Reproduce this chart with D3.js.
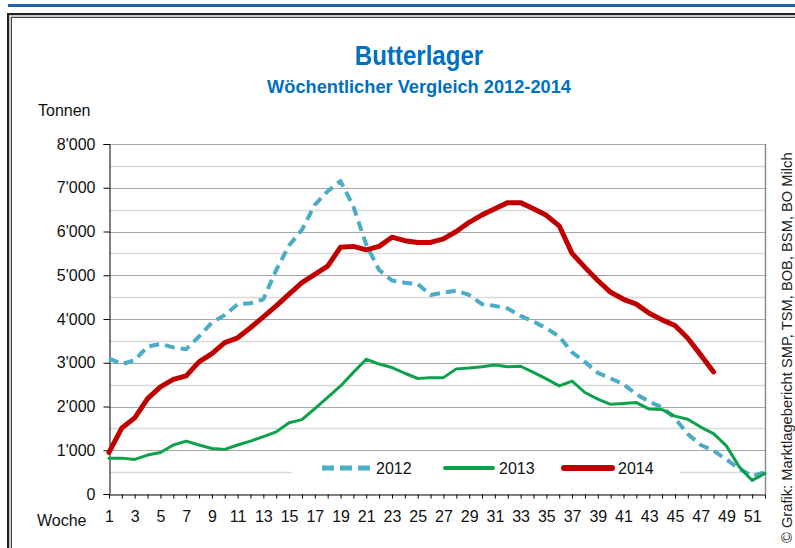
<!DOCTYPE html>
<html>
<head>
<meta charset="utf-8">
<script src="https://cdn.jsdelivr.net/npm/d3@7"></script>
<style>
  body { margin: 0; background: #fff; }
  svg { display: block; }
  text { font-family: "Liberation Sans Narrow", "Arial Narrow", "Liberation Sans", Arial, sans-serif; }
</style>
</head>
<body>
<div id="viz"></div>
<script>
// weeks + values (tonnes)
var weeks = d3.range(1, 53);
var weekLabels = d3.range(1, 52, 2);
var yTicks = [0, 1000, 2000, 3000, 4000, 5000, 6000, 7000, 8000];
var yMinor = [500, 1500, 2500, 3500, 4500, 5500, 6500, 7500];

var v2012 = [3100, 2970, 3060, 3370, 3430, 3350, 3310, 3600, 3920, 4090,
             4340, 4360, 4450, 5120, 5680, 6040, 6610, 6920, 7150, 6570,
             5700, 5120, 4880, 4830, 4800, 4550, 4600, 4650, 4550, 4340,
             4300, 4240, 4070, 3940, 3790, 3600, 3240, 3020, 2770, 2640,
             2510, 2280, 2110, 1980, 1730, 1370, 1120, 990, 790, 580,
             410, 500];
var v2013 = [820, 820, 790, 890, 950, 1120, 1210, 1120, 1040, 1020,
             1120, 1210, 1310, 1420, 1630, 1700, 1950, 2210, 2470, 2780,
             3080, 2970, 2890, 2760, 2640, 2660, 2660, 2860, 2880, 2910,
             2950, 2910, 2920, 2780, 2630, 2470, 2580, 2320, 2170, 2050,
             2070, 2090, 1940, 1930, 1780, 1710, 1530, 1380, 1100, 620,
             310, 470];
var v2014 = [950, 1510, 1740, 2180, 2450, 2620, 2700, 3020, 3210, 3460,
             3570, 3800, 4050, 4300, 4570, 4830, 5020, 5210, 5640, 5660,
             5580, 5660, 5870, 5790, 5750, 5750, 5830, 6000, 6210, 6380,
             6520, 6660, 6660, 6520, 6370, 6130, 5500, 5180, 4880, 4610,
             4450, 4340, 4130, 3980, 3850, 3560, 3180, 2790];

var series = [
    {name: "2012", values: v2012, color: "#4bacc6", width: 4, dash: "10,6"},
    {name: "2013", values: v2013, color: "#0ea14b", width: 3, dash: null},
    {name: "2014", values: v2014, color: "#c00000", width: 5, dash: null}
];

var W = 795, H = 548;
var svg = d3.select('#viz').append('svg')
        .attr("width", W)
        .attr("height", H);

// page decoration: blue rule + double frame
svg.append("rect").attr("x", 8).attr("y", 4).attr("width", W - 8).attr("height", 3).attr("fill", "#1f5fa8");
svg.append("rect").attr("x", 8).attr("y", 14).attr("width", W + 20).attr("height", H + 20)
    .attr("fill", "none").attr("stroke", "#222").attr("stroke-width", 2);
svg.append("rect").attr("x", 10).attr("y", 16).attr("width", W + 20).attr("height", H + 20)
    .attr("fill", "none").attr("stroke", "#c8c8c8").attr("stroke-width", 2);
svg.append("rect").attr("x", 11.5).attr("y", 17.5).attr("width", W + 20).attr("height", H + 20)
    .attr("fill", "none").attr("stroke", "#444").attr("stroke-width", 1);

var x = d3.scaleLinear().domain([1, 52]).range([109, 765]);
var y = d3.scaleLinear().domain([0, 8000]).range([494, 144]);

// gridlines
svg.append("g").selectAll("line.minor")
    .data(yMinor)
    .enter().append("line")
        .attr("x1", 109).attr("x2", 765)
        .attr("y1", function(d) { return Math.round(y(d)) + 0.5; })
        .attr("y2", function(d) { return Math.round(y(d)) + 0.5; })
        .attr("stroke", "#d9d9d9").attr("stroke-width", 1.5);
svg.append("g").selectAll("line.major")
    .data(yTicks.slice(1))
    .enter().append("line")
        .attr("x1", 109).attr("x2", 765)
        .attr("y1", function(d) { return Math.round(y(d)) + 0.5; })
        .attr("y2", function(d) { return Math.round(y(d)) + 0.5; })
        .attr("stroke", "#a6a6a6").attr("stroke-width", 1.2);

// right border of plot area
svg.append("line").attr("x1", 765.5).attr("x2", 765.5).attr("y1", y(8000)).attr("y2", y(0))
    .attr("stroke", "#8c8c8c").attr("stroke-width", 1.5);

// y axis
var yAxis = d3.axisLeft(y).tickValues(yTicks).tickSize(6).tickPadding(8)
    .tickFormat(function(d) { return d3.format(",")(d).replace(/,/g, "'"); });
var gy = svg.append("g").attr("transform", "translate(109.5,0)").call(yAxis);
gy.select(".domain").attr("stroke", "#000");
gy.selectAll(".tick line").attr("stroke", "#000");
gy.selectAll("text").attr("font-size", 16).attr("fill", "#111")
    .style("font-family", '"Liberation Sans", Arial, sans-serif');

// x axis
var xAxis = d3.axisBottom(x).tickValues(weeks).tickSize(4).tickSizeOuter(0).tickPadding(12)
    .tickFormat(function(d) { return weekLabels.indexOf(d) >= 0 ? d : ""; });
var gx = svg.append("g").attr("transform", "translate(0,494.5)").call(xAxis);
gx.select(".domain").attr("stroke", "#000");
gx.selectAll(".tick line").attr("stroke", "#000");
gx.selectAll("text").attr("font-size", 16).attr("fill", "#111");

// legend (white box over the 500 gridline)
var legendX = [322, 445, 564];
svg.append("rect").attr("x", 292).attr("y", 456).attr("width", 388).attr("height", 26).attr("fill", "#fff");
var lg = svg.append("g").selectAll("g")
    .data(series)
    .enter().append("g")
        .attr("transform", function(d, i) { return "translate(" + legendX[i] + ",468)"; });
lg.append("line")
    .attr("x1", 0).attr("x2", 48).attr("y1", 0).attr("y2", 0)
    .attr("stroke", function(d) { return d.color; })
    .attr("stroke-width", function(d) { return d.width + 1; })
    .attr("stroke-dasharray", function(d) { return d.dash ? "12,6" : null; })
    .attr("stroke-linecap", function(d) { return d.dash ? "butt" : "round"; });
lg.append("text")
    .attr("x", 54).attr("y", 6)
    .attr("font-size", 16).attr("fill", "#111")
    .text(function(d) { return d.name; });

// lines
var line = d3.line()
    .x(function(d, i) { return x(weeks[i]); })
    .y(function(d) { return y(d); });

svg.append("g").selectAll("path")
    .data(series)
    .enter().append("path")
        .attr("d", function(d) { return line(d.values); })
        .attr("fill", "none")
        .attr("stroke", function(d) { return d.color; })
        .attr("stroke-width", function(d) { return d.width; })
        .attr("stroke-dasharray", function(d) { return d.dash; })
        .attr("stroke-linejoin", "round")
        .attr("stroke-linecap", function(d) { return d.dash ? "butt" : "round"; });

// titles (condensed like the original Arial Narrow)
svg.append("text").attr("transform", "translate(419,65) scale(0.86,1)").attr("text-anchor", "middle")
    .attr("font-size", 28).attr("font-weight", "bold").attr("fill", "#0070c0")
    .text("Butterlager");
svg.append("text").attr("transform", "translate(419,93) scale(0.96,1)").attr("text-anchor", "middle")
    .attr("font-size", 19).attr("font-weight", "bold").attr("fill", "#0070c0")
    .text("Wöchentlicher Vergleich 2012-2014");

svg.append("text").attr("x", 38).attr("y", 116)
    .attr("font-size", 16).attr("fill", "#111")
    .text("Tonnen");
svg.append("text").attr("x", 37).attr("y", 526)
    .attr("font-size", 16).attr("fill", "#111")
    .text("Woche");

// source note, rotated
svg.append("text")
    .attr("transform", "translate(792,543) rotate(-90)")
    .attr("font-size", 14.7).attr("fill", "#222")
    .text("© Grafik: Marktlagebericht SMP, TSM, BOB, BSM, BO Milch");
</script>
</body>
</html>
